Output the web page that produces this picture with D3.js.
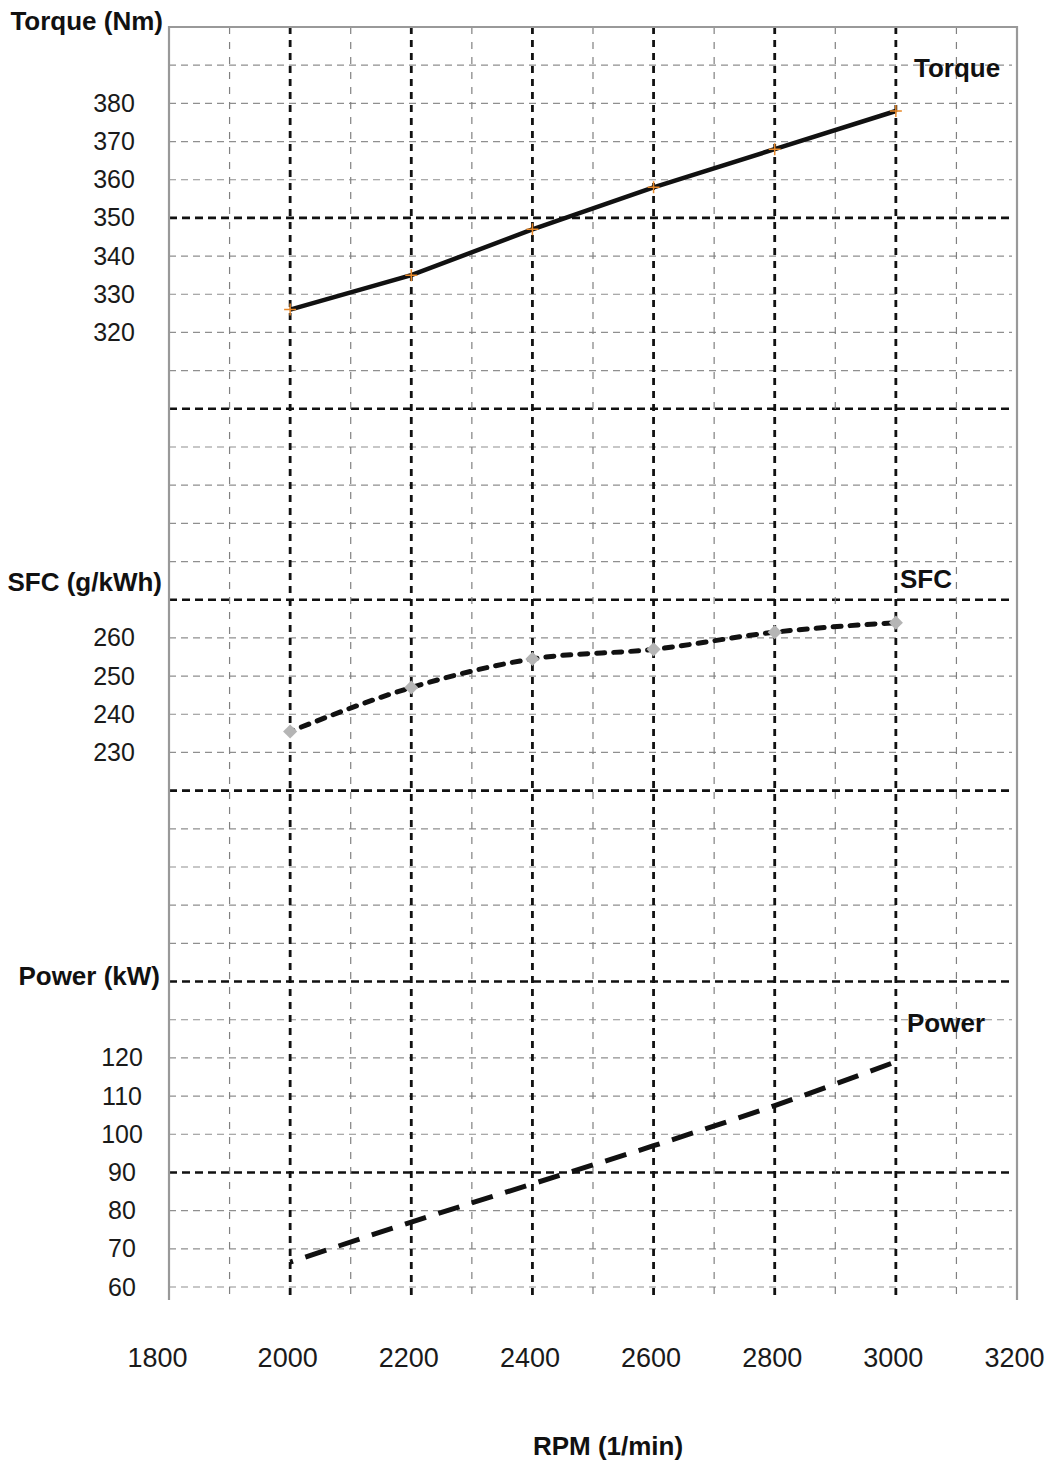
<!DOCTYPE html>
<html>
<head>
<meta charset="utf-8">
<script src="https://cdn.jsdelivr.net/npm/d3@7"></script>
<style>
  body { margin: 0; background: #fff; }
  svg { font-family: "Liberation Sans", Arial, sans-serif; }
</style>
</head>
<body>
<div id="chart"></div>
<script>
// data
var rpm = [2000, 2200, 2400, 2600, 2800, 3000];
var torque = [326, 335, 347, 358, 368, 378];
var sfc = [235.5, 247, 254.5, 257, 261.5, 264];
var power = [66.5, 77, 87, 97, 107.5, 119];

var rpmTicks = [1800, 2000, 2200, 2400, 2600, 2800, 3000, 3200];
var torqueTicks = [320, 330, 340, 350, 360, 370, 380];
var sfcTicks = [230, 240, 250, 260];
var powerTicks = [60, 70, 80, 90, 100, 110, 120];

var width = 1048, height = 1464;
var margin = {left: 169, right: 31, top: 27, bottom: 177};
var plotBottom = height - margin.bottom + 13; // lines run a bit below the last row

var svg = d3.select("#chart").append("svg")
    .attr("width", width).attr("height", height);

var x = d3.scaleLinear().domain([1800, 3200]).range([margin.left, width - margin.right]);
// every series gets its own scale, 10 units per grid row, 33 rows
var yTorque = d3.scaleLinear().domain([400, 70]).range([margin.top, height - margin.bottom]);
var ySfc = d3.scaleLinear().domain([420, 90]).range([margin.top, height - margin.bottom]);
var yPower = d3.scaleLinear().domain([390, 60]).range([margin.top, height - margin.bottom]);

var grid = svg.append("g");

// horizontal grid
var rows = d3.range(390, 60, -10);
grid.selectAll("line.h").data(rows).enter().append("line")
    .attr("x1", x(1800)).attr("x2", x(3200) - 5)
    .attr("y1", function(d){ return yTorque(d); })
    .attr("y2", function(d){ return yTorque(d); })
    .attr("stroke", function(d){ return (400 - d) % 50 === 0 ? "#111" : "#8f8f8f"; })
    .attr("stroke-width", function(d){ return (400 - d) % 50 === 0 ? 2.6 : 1.2; })
    .attr("stroke-dasharray", function(d){ return (400 - d) % 50 === 0 ? "8,5" : "7,5"; });

// vertical grid
var cols = d3.range(1900, 3200, 100);
grid.selectAll("line.v").data(cols).enter().append("line")
    .attr("x1", function(d){ return x(d); })
    .attr("x2", function(d){ return x(d); })
    .attr("y1", margin.top).attr("y2", plotBottom)
    .attr("stroke", function(d){ return d % 200 === 0 ? "#111" : "#808080"; })
    .attr("stroke-width", function(d){ return d % 200 === 0 ? 2.8 : 1.2; })
    .attr("stroke-dasharray", function(d){ return d % 200 === 0 ? "7,6" : "7,8"; });

// frame (top, left, right)
grid.append("path")
    .attr("d", "M" + x(1800) + "," + plotBottom + "V" + margin.top + "H" + x(3200) + "V" + plotBottom)
    .attr("fill", "none").attr("stroke", "#999").attr("stroke-width", 2.2);

// axes labels
function styleAxis(g) {
    g.select(".domain").remove();
    g.selectAll("line").remove();
    g.selectAll("text")
        .attr("font-family", "Liberation Sans, Arial, sans-serif")
        .attr("fill", "#1a1a1a");
}

svg.append("g").attr("transform", "translate(114,0)")
    .call(d3.axisLeft(yTorque).tickValues(torqueTicks).tickSize(0).tickPadding(0))
    .call(styleAxis)
    .selectAll("text").attr("text-anchor", "middle").attr("font-size", 25);

svg.append("g").attr("transform", "translate(114,0)")
    .call(d3.axisLeft(ySfc).tickValues(sfcTicks).tickSize(0).tickPadding(0))
    .call(styleAxis)
    .selectAll("text").attr("text-anchor", "middle").attr("font-size", 25);

svg.append("g").attr("transform", "translate(122,0)")
    .call(d3.axisLeft(yPower).tickValues(powerTicks).tickSize(0).tickPadding(0))
    .call(styleAxis)
    .selectAll("text").attr("text-anchor", "middle").attr("font-size", 25);

svg.append("g").attr("transform", "translate(-3,1348)")
    .call(d3.axisBottom(x).tickValues(rpmTicks).tickSize(0).tickPadding(0).tickFormat(d3.format("d")))
    .call(styleAxis)
    .selectAll("text").attr("font-size", 27).attr("dy", "0.72em")
    .attr("dx", function(d){ return d === 1800 ? -9 : 0; });

// titles
var titles = svg.append("g").attr("font-weight", "bold").attr("font-size", 26).attr("fill", "#111");
titles.append("text").attr("x", 163).attr("y", 30).attr("text-anchor", "end").text("Torque (Nm)");
titles.append("text").attr("x", 162).attr("y", 591).attr("text-anchor", "end").text("SFC (g/kWh)");
titles.append("text").attr("x", 160).attr("y", 985).attr("text-anchor", "end").text("Power (kW)");
titles.append("text").attr("x", 608).attr("y", 1455).attr("text-anchor", "middle").text("RPM (1/min)");
titles.append("text").attr("x", 914).attr("y", 77).text("Torque");
titles.append("text").attr("x", 900).attr("y", 588).text("SFC");
titles.append("text").attr("x", 907).attr("y", 1032).text("Power");

// series lines
var torqueLine = d3.line()
    .x(function(d, i){ return x(rpm[i]); })
    .y(function(d){ return yTorque(d); });
var sfcLine = d3.line()
    .x(function(d, i){ return x(rpm[i]); })
    .y(function(d){ return ySfc(d); })
    .curve(d3.curveMonotoneX);
var powerLine = d3.line()
    .x(function(d, i){ return x(rpm[i]); })
    .y(function(d){ return yPower(d); })
    .curve(d3.curveMonotoneX);

svg.append("path").attr("d", torqueLine(torque))
    .attr("fill", "none").attr("stroke", "#111").attr("stroke-width", 4.5);

svg.append("path").attr("d", sfcLine(sfc))
    .attr("fill", "none").attr("stroke", "#111").attr("stroke-width", 5)
    .attr("stroke-linecap", "round")
    .attr("stroke-dasharray", "8,9").attr("stroke-dashoffset", -12);

svg.append("path").attr("d", powerLine(power))
    .attr("fill", "none").attr("stroke", "#111").attr("stroke-width", 5)
    .attr("stroke-dasharray", "22,13").attr("stroke-dashoffset", 19);

// markers
svg.selectAll("path.tq").data(torque).enter().append("path")
    .attr("transform", function(d, i){ return "translate(" + x(rpm[i]) + "," + yTorque(d) + ")"; })
    .attr("d", "M-6,0H6M0,-6V6")
    .attr("stroke", "#e8892a").attr("stroke-width", 1.5);

svg.selectAll("path.sf").data(sfc).enter().append("path")
    .attr("transform", function(d, i){ return "translate(" + x(rpm[i]) + "," + ySfc(d) + ") rotate(45)"; })
    .attr("d", d3.symbol(d3.symbolSquare, 100))
    .attr("fill", "#b5b5b5");
</script>
</body>
</html>
